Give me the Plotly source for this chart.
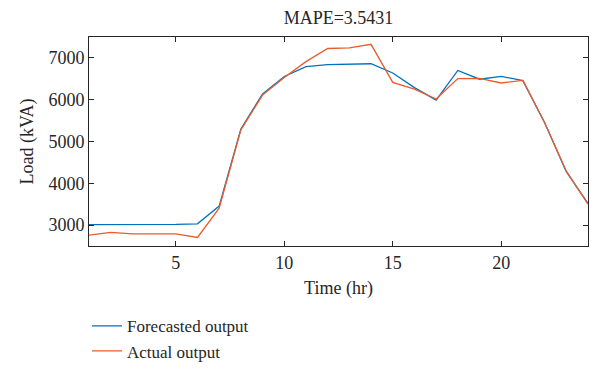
import plotly.graph_objects as go

hours = list(range(1, 25))
forecasted = [3010, 3010, 3010, 3010, 3015, 3030, 3455, 5300, 6140, 6555,
              6790, 6840, 6850, 6860, 6640, 6290, 5990, 6700, 6490, 6560,
              6455, 5450, 4280, 3520]
actual = [2760, 2825, 2790, 2790, 2790, 2705, 3405, 5280, 6110, 6530,
          6910, 7225, 7240, 7325, 6415, 6255, 6015, 6505, 6510, 6400,
          6460, 5455, 4290, 3500]
x_ticks = [5, 10, 15, 20]
y_ticks = [3000, 4000, 5000, 6000, 7000]

FONT = "Liberation Serif"
TXT = "#262626"
FS = 18

fig = go.Figure()
fig.add_trace(go.Scatter(x=hours, y=forecasted, mode="lines", name="Forecasted output",
                         line=dict(color="#0072BD", width=1.3)))
fig.add_trace(go.Scatter(x=hours, y=actual, mode="lines", name="Actual output",
                         line=dict(color="#EC5B2B", width=1.3)))

axis_common = dict(showgrid=False, zeroline=False, showline=True, linecolor=TXT,
                   linewidth=1, mirror="allticks", ticks="inside", ticklen=5,
                   tickcolor=TXT, automargin=False,
                   tickfont=dict(family=FONT, size=FS, color=TXT))

fig.update_layout(
    width=591, height=374,
    margin=dict(l=89, r=3, t=37, b=128),
    paper_bgcolor="white", plot_bgcolor="white",
    font=dict(family=FONT, size=FS, color=TXT),
    title=dict(text="MAPE=3.5431", x=338.5 / 591, xanchor="center",
               y=1 - 18 / 374, yanchor="middle",
               font=dict(family=FONT, size=FS, color=TXT)),
    xaxis=dict(range=[1, 24], tickvals=x_ticks,
               title=dict(text="Time (hr)", standoff=9,
                          font=dict(family=FONT, size=FS, color=TXT)),
               **axis_common),
    yaxis=dict(range=[2500, 7500], tickvals=y_ticks,
               title=dict(text="Load (kVA)", standoff=10,
                          font=dict(family=FONT, size=FS, color=TXT)),
               **axis_common),
    legend=dict(x=-0.004, xanchor="left", y=-0.298, yanchor="top",
                bgcolor="rgba(0,0,0,0)", font=dict(family=FONT, size=17, color=TXT)),
    showlegend=True,
)

fig.write_html("out.html", config={"displayModeBar": False},
               post_script="document.body.style.margin='0';document.body.style.overflow='hidden';")
